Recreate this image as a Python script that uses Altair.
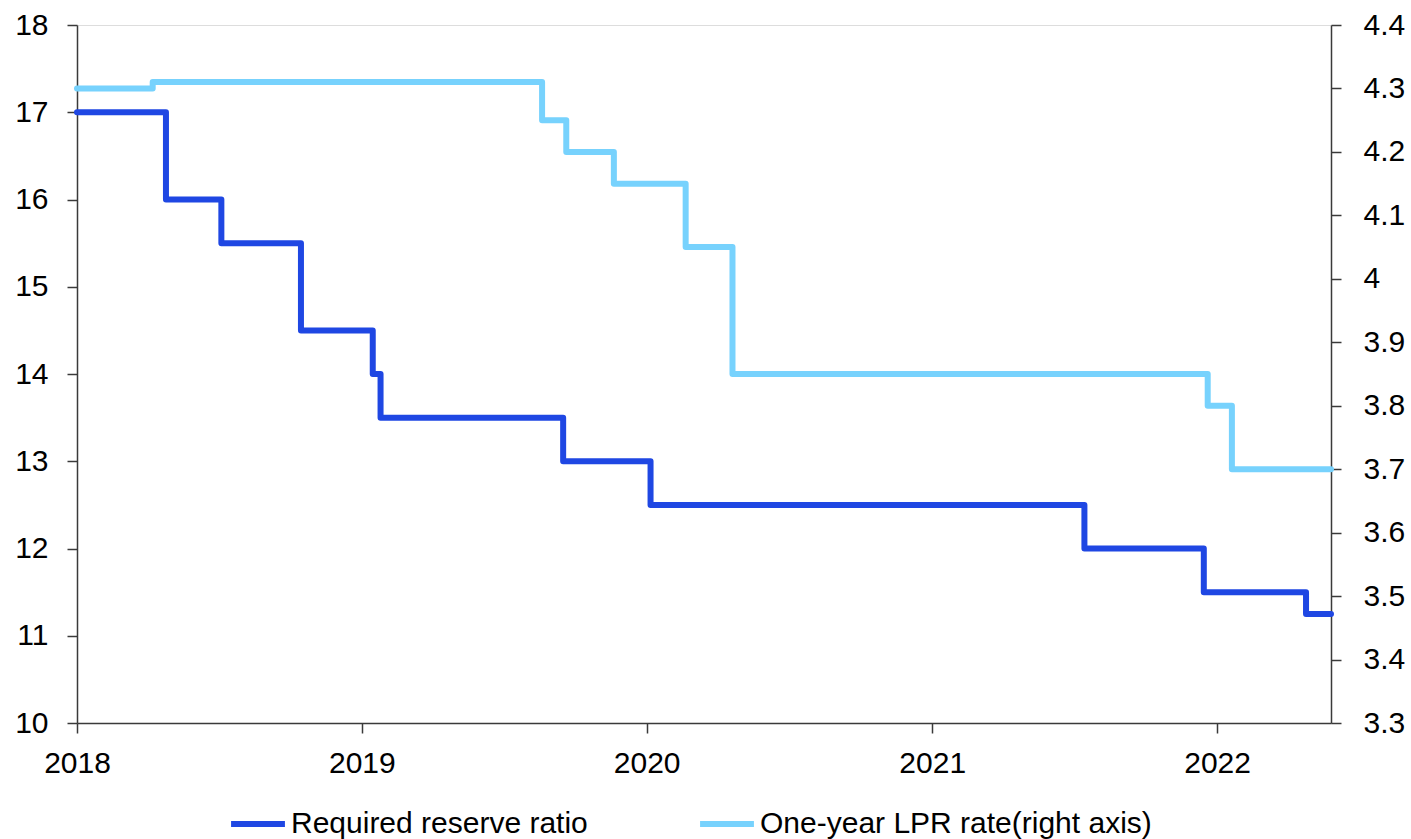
import altair as alt
import pandas as pd

# Required reserve ratio (left axis, %) - step changes
rrr_dates = ["2018-01-01", "2018-04-25", "2018-07-05", "2018-10-15", "2019-01-15",
             "2019-01-25", "2019-09-16", "2020-01-06", "2021-07-15", "2021-12-15",
             "2022-04-25", "2022-05-27"]
rrr_values = [17, 16, 15.5, 14.5, 14, 13.5, 13, 12.5, 12, 11.5, 11.25, 11.25]

# One-year LPR (right axis, %)
lpr_dates = ["2018-01-01", "2018-04-08", "2019-08-20", "2019-09-20", "2019-11-20",
             "2020-02-20", "2020-04-20", "2021-12-20", "2022-01-20", "2022-05-27"]
lpr_values = [4.30, 4.31, 4.25, 4.20, 4.15, 4.05, 3.85, 3.80, 3.70, 3.70]

series_names = ["Required reserve ratio", "One-year LPR rate(right axis)"]
series_colors = ["#1f47e3", "#77d2fd"]

df = pd.concat([
    pd.DataFrame({"date": rrr_dates, "value": rrr_values, "series": series_names[0]}),
    pd.DataFrame({"date": lpr_dates, "value": lpr_values, "series": series_names[1]}),
])

FONT = "Liberation Sans"
FS = 30
AX = "#3a3a3a"

x_enc = alt.X(
    "date:T",
    scale=alt.Scale(type="utc", domain=[alt.DateTime(year=2018, month=1, date=1, utc=True),
                                        alt.DateTime(year=2022, month=5, date=27, utc=True)]),
    axis=alt.Axis(
        title=None, format="%Y", formatType="time",
        values=[alt.DateTime(year=y, month=1, date=1, utc=True) for y in range(2018, 2023)],
        labelFontSize=FS, labelFont=FONT, labelColor="black", labelPadding=15,
        tickSize=10, tickColor=AX, domainColor=AX, domainWidth=1.5, tickWidth=1.5,
        grid=False, labelFlush=False,
    ),
)

color_enc = alt.Color(
    "series:N",
    scale=alt.Scale(domain=series_names, range=series_colors),
    legend=alt.Legend(
        title=None, orient="none", legendX=151, legendY=769, direction="horizontal",
        symbolType="stroke", symbolStrokeWidth=6, symbolSize=2900,
        labelFontSize=FS, labelFont=FONT, labelColor="black",
        columnPadding=100, labelOffset=3, padding=0, labelLimit=600,
    ),
)

base = alt.Chart(df)

left = base.transform_filter(alt.datum.series == series_names[0]).mark_line(
    interpolate="step-after", strokeWidth=6, strokeJoin="round", strokeCap="round"
).encode(
    x=x_enc,
    y=alt.Y("value:Q", scale=alt.Scale(domain=[10, 18], nice=False, zero=False),
            axis=alt.Axis(title=None, orient="left", values=list(range(10, 19)), format="d",
                          labelFontSize=FS, labelFont=FONT, labelColor="black", labelPadding=19,
                          tickSize=10, tickColor=AX, domainColor=AX, domainWidth=1.5, tickWidth=1.5,
                          grid=False)),
    color=color_enc,
)

right = base.transform_filter(alt.datum.series == series_names[1]).mark_line(
    interpolate="step-after", strokeWidth=6, strokeJoin="round", strokeCap="round"
).encode(
    x=x_enc,
    y=alt.Y("value:Q", scale=alt.Scale(domain=[3.3, 4.4], nice=False, zero=False),
            axis=alt.Axis(title=None, orient="right",
                          values=[3.3, 3.4, 3.5, 3.6, 3.7, 3.8, 3.9, 4.0, 4.1, 4.2, 4.3, 4.4],
                          format=".1~f",
                          labelFontSize=FS, labelFont=FONT, labelColor="black", labelPadding=22,
                          tickSize=10, tickColor=AX, domainColor=AX, domainWidth=1.5, tickWidth=1.5,
                          grid=False)),
    color=color_enc,
)

chart = alt.layer(right, left).resolve_scale(y="independent").properties(
    width=1254, height=698,
    autosize=alt.AutoSizeParams(type="none"),
    padding={"left": 77, "top": 25, "right": 80, "bottom": 116},
).configure_view(stroke=None).configure(background="white")

chart.save("out.html", embed_options={"renderer": "svg", "actions": False})
